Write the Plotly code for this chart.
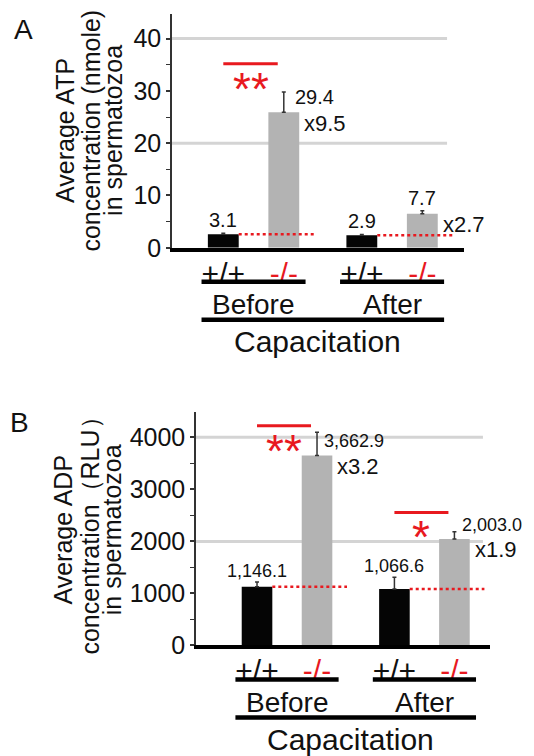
import plotly.graph_objects as go

W, H = 534, 756
KY = 1.018       # vertical correction for the screenshot
RED = "#e8191f"
FONT = "Liberation Sans, Arial, Helvetica, sans-serif"

# ---------------- data ----------------
conditions = ["Before", "After"]
genotypes = ["+/+", "-/-"]
group_title = "Capacitation"

atp_wt = [2.6, 2.4]
atp_ko = [25.9, 6.5]
atp_wt_err = [0.2, 0.15]
atp_ko_err = [3.9, 0.6]
atp_wt_text = ["3.1", "2.9"]
atp_ko_text = ["29.4", "7.7"]
atp_fold = ["x9.5", "x2.7"]
atp_sig = ["**", ""]
atp_sig_level = [35.2, None]
atp_ticks = [0, 10, 20, 30, 40]
atp_grid = [20, 40]
atp_title = ["Average ATP", "concentration (nmole)", "in spermatozoa"]

adp_wt = [1126, 1087]
adp_ko = [3649, 2046]
adp_wt_err = [95, 223]
adp_ko_err = [449, 140]
adp_wt_text = ["1,146.1", "1,066.6"]
adp_ko_text = ["3,662.9", "2,003.0"]
adp_fold = ["x3.2", "x1.9"]
adp_sig = ["**", "*"]
adp_sig_level = [4224, 2556]
adp_ticks = [0, 1000, 2000, 3000, 4000]
adp_grid = [2000, 4000]
adp_title = ["Average ADP", "concentration（RLU）", "in spermatozoa"]

# ---------------- layout constants ----------------
GAP = 2.29       # distance between condition groups (in bar units)
BW = 0.51        # bar width
panels = [
    dict(letter="A", letter_px=(23, 30), xdom=(172, 464), ydom=(14, 248), xr=(-0.848, 3.979),
         yr=(0, 44.7), minor=5, grid_frac=0.942, title_x=(65, 90.7, 113), title_y=131,
         wt=atp_wt, ko=atp_ko, wt_err=atp_wt_err, ko_err=atp_ko_err, wt_text=atp_wt_text,
         ko_text=atp_ko_text, fold=atp_fold, sig=atp_sig, sig_level=atp_sig_level,
         ticks=atp_ticks, grid=atp_grid, title=atp_title, val_font=20,
         wt_shift=13, ko_place=[("right", 9, -5), ("above", 0, 13)]),
    dict(letter="B", letter_px=(19, 423), xdom=(196, 490), ydom=(412, 646), xr=(-1.017, 3.883),
         yr=(0, 4493), minor=500, grid_frac=0.976, title_x=(63, 90, 111.7), title_y=530,
         wt=adp_wt, ko=adp_ko, wt_err=adp_wt_err, ko_err=adp_ko_err, wt_text=adp_wt_text,
         ko_text=adp_ko_text, fold=adp_fold, sig=adp_sig, sig_level=adp_sig_level,
         ticks=adp_ticks, grid=adp_grid, title=adp_title, val_font=18,
         wt_shift=11, ko_place=[("right", 5, -9), ("right", 6, 7)]),
]


def px_x(px):
    return px / W


def px_y(py):
    return 1 - py * KY / H


fig = go.Figure()
annotations = []
shapes = []
layout_axes = {}

for i, p in enumerate(panels):
    n = "" if i == 0 else str(i + 1)
    xa, ya = "x" + n, "y" + n
    pos_wt = [g * GAP for g in range(len(conditions))]
    pos_ko = [x + 1 for x in pos_wt]

    # bars
    fig.add_trace(go.Bar(
        x=pos_wt, y=p["wt"], width=BW, marker=dict(color="#050505", line=dict(width=0)),
        error_y=dict(type="data", array=p["wt_err"], arrayminus=[0] * len(pos_wt), symmetric=False,
                     color="#333333", thickness=1.5, width=2),
        xaxis=xa, yaxis=ya, showlegend=False, hoverinfo="skip"))
    fig.add_trace(go.Bar(
        x=pos_ko, y=p["ko"], width=BW, marker=dict(color="#b3b3b3", line=dict(width=0)),
        error_y=dict(type="data", array=p["ko_err"], arrayminus=[0] * len(pos_ko), symmetric=False,
                     color="#333333", thickness=1.5, width=2),
        xaxis=xa, yaxis=ya, showlegend=False, hoverinfo="skip"))

    # dotted reference lines at wild-type level
    dx, dy = [], []
    for xw, xk, v in zip(pos_wt, pos_ko, p["wt"]):
        dx += [xw + BW / 2, xk + 0.5, None]
        dy += [v, v, None]
    fig.add_trace(go.Scatter(x=dx, y=dy, mode="lines", line=dict(color=RED, width=2.5, dash="dot"),
                             xaxis=xa, yaxis=ya, showlegend=False, hoverinfo="skip"))

    # significance bars
    sx, sy = [], []
    for xw, xk, s, lv in zip(pos_wt, pos_ko, p["sig"], p["sig_level"]):
        if s:
            sx += [xw, xk - 0.1, None]
            sy += [lv, lv, None]
            annotations.append(dict(x=(xw + xk - 0.1) / 2, y=lv, xref=xa, yref=ya, text=s,
                                    showarrow=False, xanchor="center", yanchor="middle", yshift=-25,
                                    font=dict(size=46, color=RED, family=FONT)))
    fig.add_trace(go.Scatter(x=sx, y=sy, mode="lines", line=dict(color=RED, width=3),
                             xaxis=xa, yaxis=ya, showlegend=False, hoverinfo="skip"))

    # value labels
    for xw, v, e, t in zip(pos_wt, p["wt"], p["wt_err"], p["wt_text"]):
        annotations.append(dict(x=xw, y=v + e, xref=xa, yref=ya, text=t, showarrow=False,
                                xanchor="center", yanchor="middle", yshift=p["wt_shift"],
                                font=dict(size=p["val_font"], color="#111", family=FONT)))
    for xk, v, e, t, pl in zip(pos_ko, p["ko"], p["ko_err"], p["ko_text"], p["ko_place"]):
        kind, xs, ys = pl
        annotations.append(dict(x=xk, y=v + e, xref=xa, yref=ya, text=t, showarrow=False,
                                xanchor="left" if kind == "right" else "center", yanchor="middle",
                                xshift=xs, yshift=ys,
                                font=dict(size=p["val_font"], color="#111", family=FONT)))
    for xk, v, t in zip(pos_ko, p["ko"], p["fold"]):
        annotations.append(dict(x=xk + BW / 2, y=v, xref=xa, yref=ya, text=t, showarrow=False,
                                xanchor="left", yanchor="middle", xshift=3, yshift=-11,
                                font=dict(size=22, color="#111", family=FONT)))

    # grid lines (only at selected values)
    for g in p["grid"]:
        shapes.append(dict(type="line", xref=xa + " domain", yref=ya, x0=0, x1=p["grid_frac"],
                           y0=g, y1=g, layer="below", line=dict(color="#d4d4d4", width=3)))

    # group underlines and labels
    base = p["ydom"][1]
    for c, xw, xk in zip(conditions, pos_wt, pos_ko):
        shapes.append(dict(type="line", xref=xa, yref="paper", x0=xw - 0.36, x1=xk + 0.36,
                           y0=px_y(base + 34), y1=px_y(base + 34), line=dict(color="black", width=4.5)))
        annotations.append(dict(x=(xw + xk) / 2, y=px_y(base + 57), xref=xa, yref="paper", text=c,
                                showarrow=False, xanchor="center", yanchor="middle",
                                font=dict(size=28, color="#111", family=FONT)))
    shapes.append(dict(type="line", xref=xa, yref="paper", x0=pos_wt[0] - 0.36, x1=pos_ko[-1] + 0.36,
                       y0=px_y(base + 72), y1=px_y(base + 72), line=dict(color="black", width=4.5)))
    annotations.append(dict(x=(pos_wt[0] + pos_ko[-1]) / 2 - 0.08, y=px_y(base + 94), xref=xa, yref="paper",
                            text=group_title, showarrow=False, xanchor="center", yanchor="middle",
                            font=dict(size=30, color="#111", family=FONT)))

    # y-axis title lines
    for tx, t in zip(p["title_x"], p["title"]):
        annotations.append(dict(x=px_x(tx), y=px_y(p["title_y"]), xref="paper", yref="paper", text=t,
                                textangle=-90, showarrow=False, xanchor="center", yanchor="middle",
                                font=dict(size=25, color="#111", family=FONT)))
    # panel letter
    annotations.append(dict(x=px_x(p["letter_px"][0]), y=px_y(p["letter_px"][1]), xref="paper",
                            yref="paper", text=p["letter"], showarrow=False, xanchor="center",
                            yanchor="middle", font=dict(size=28, color="#111", family=FONT)))

    tickvals = pos_wt + pos_ko
    ticktext = [genotypes[0]] * len(pos_wt) + \
        [f"<span style='color:{RED}'>{genotypes[1]}</span>"] * len(pos_ko)

    layout_axes["xaxis" + n] = dict(
        domain=[px_x(p["xdom"][0]), px_x(p["xdom"][1])], range=list(p["xr"]), anchor=ya,
        showline=True, linecolor="black", linewidth=3.5, ticks="", showgrid=False, zeroline=False,
        tickvals=tickvals, ticktext=ticktext, tickfont=dict(size=30, color="#111", family=FONT),
        ticklabelstandoff=-4)
    layout_axes["yaxis" + n] = dict(
        domain=[px_y(p["ydom"][1]), px_y(p["ydom"][0])], range=list(p["yr"]), anchor=xa,
        showline=True, linecolor="#333", linewidth=1.5, ticks="outside", ticklen=4, tickwidth=1.5,
        tickcolor="#333", tickvals=p["ticks"], showgrid=False, zeroline=False,
        tickfont=dict(size=25, color="#111", family=FONT),
        minor=dict(dtick=p["minor"], ticks="outside", ticklen=4, tickwidth=1.2, tickcolor="#333"))

fig.update_layout(
    width=W, height=H, autosize=False, margin=dict(l=0, r=0, t=0, b=0),
    paper_bgcolor="white", plot_bgcolor="rgba(0,0,0,0)", barmode="overlay",
    annotations=annotations, shapes=shapes, font=dict(family=FONT), **layout_axes)

fig.write_html("out.html", config={"displayModeBar": False},
               post_script="document.body.style.margin='0px';document.body.style.overflow='hidden';")
